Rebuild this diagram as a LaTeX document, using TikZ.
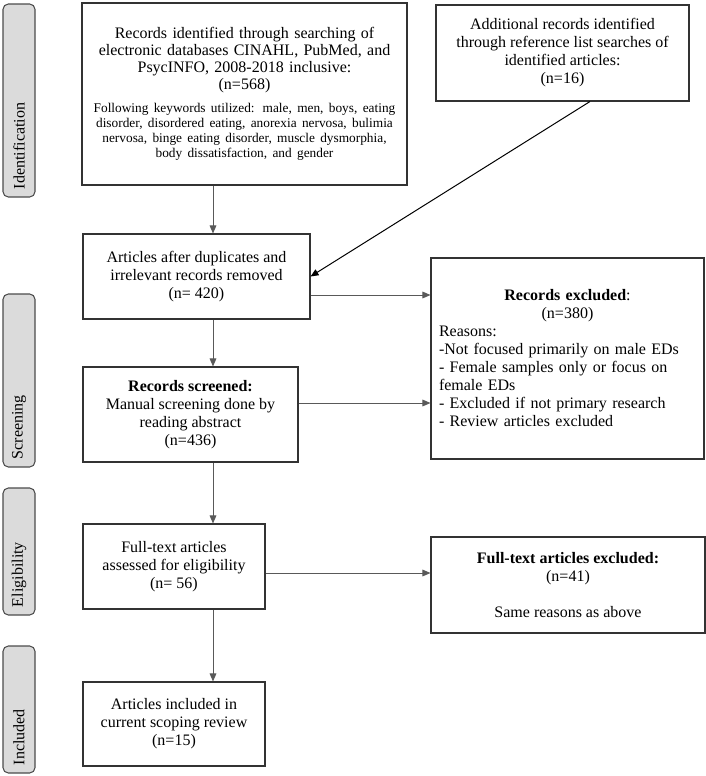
\documentclass[tikz,border=0pt]{standalone}
\usepackage{fontspec}
\setmainfont{Liberation Serif}
\usepackage{tikz}
\usetikzlibrary{arrows.meta}
\setlength{\parindent}{0pt}

\begin{document}
\begin{tikzpicture}[x=0.75pt, y=-0.75pt,
    every node/.style={font=\fontsize{12}{13.5}\selectfont},
    box/.style={draw=black!80, line width=0.8pt, inner sep=0pt},
    phase/.style={draw=black!70, fill=black!14, rounded corners=4pt,
        line width=0.8pt, rotate=90, minimum height=24pt, inner xsep=6pt,
        align=left},
    arr/.style={draw=black!65, line width=0.75pt,
        -{Triangle[length=6pt,width=5pt]}}]
    \useasboundingbox (0,0) rectangle (706,776);

    % phase labels on the left
    \node[phase, text width=132.75pt] (idn) at (19,100.5) {Identification};
    \node[phase, text width=117.75pt] (scr) at (19,380.5) {Screening};
    \node[phase, text width=83.25pt] (elg) at (19,551.5) {Eligibility};
    \node[phase, text width=83.25pt] (inc) at (19,709.5) {Included};

    % boxes
    \node[box, minimum width=243.75pt, minimum height=136.5pt,
        text width=235pt, align=center,
        font=\fontsize{12}{12.75}\selectfont] (found) at (244.5,94)
        {Records identified through searching of\\
        electronic databases CINAHL, PubMed, and\\
        PsycINFO, 2008-2018 inclusive:\\
        (n=568)\par\vspace{6pt}
        {\fontsize{10}{11.25}\selectfont
        Following keywords utilized: male, men, boys, eating\\
        disorder, disordered eating, anorexia nervosa, bulimia\\
        nervosa, binge eating disorder, muscle dysmorphia,\\
        body dissatisfaction, and gender\par}\vspace{18pt}};
    \node[box, minimum width=189.75pt, minimum height=72pt,
        align=center] (extra) at (562.5,53)
        {Additional records identified\\
        through reference list searches of\\
        identified articles:\\
        (n=16)};
    \node[box, minimum width=170.25pt, minimum height=63.75pt,
        align=center] (dedup) at (196.5,276.5)
        {Articles after duplicates and\\
        irrelevant records removed\\
        (n= 420)};
    \node[box, minimum width=204.75pt, minimum height=150.75pt,
        text width=192.75pt, align=left] (excl) at (567.5,358.5)
        {\makebox[\hsize]{\textbf{Records excluded}:}\\
        \makebox[\hsize]{(n=380)}\\
        Reasons:\\
        -Not focused primarily on male EDs\\
        - Female samples only or focus on\\
        female EDs\\
        - Excluded if not primary research\\
        - Review articles excluded\\[14pt]};
    \node[box, minimum width=161.25pt, minimum height=71.25pt,
        align=center] (screen) at (190.5,414.5)
        {\textbf{Records screened:}\\
        Manual screening done by\\
        reading abstract\\
        (n=436)};
    \node[box, minimum width=136.5pt, minimum height=63.75pt,
        align=center] (full) at (174,566.5)
        {Full-text articles\\
        assessed for eligibility\\
        (n= 56)};
    \node[box, minimum width=205.5pt, minimum height=72pt,
        align=center] (fullex) at (568,585)
        {\textbf{Full-text articles excluded:}\\
        (n=41)\\[13.5pt]
        Same reasons as above};
    \node[box, minimum width=136.5pt, minimum height=63pt,
        align=center] (final) at (174,724)
        {Articles included in\\
        current scoping review\\
        (n=15)};

    % connectors
    \coordinate (sp) at (213,0);
    \coordinate (r1) at (0,295);
    \coordinate (r2) at (0,403);
    \coordinate (r3) at (0,573);
    \draw[arr] (found.south -| sp) -- (dedup.north -| sp);
    \draw[arr, draw=black] ([xshift=20.6pt]extra.south) -- (dedup.east);
    \draw[arr] (dedup.east |- r1) -- (excl.west |- r1);
    \draw[arr] (dedup.south -| sp) -- (screen.north -| sp);
    \draw[arr] (screen.east |- r2) -- (excl.west |- r2);
    \draw[arr] (screen.south -| sp) -- (full.north -| sp);
    \draw[arr] (full.east |- r3) -- (fullex.west |- r3);
    \draw[arr] (full.south -| sp) -- (final.north -| sp);
\end{tikzpicture}
\end{document}
